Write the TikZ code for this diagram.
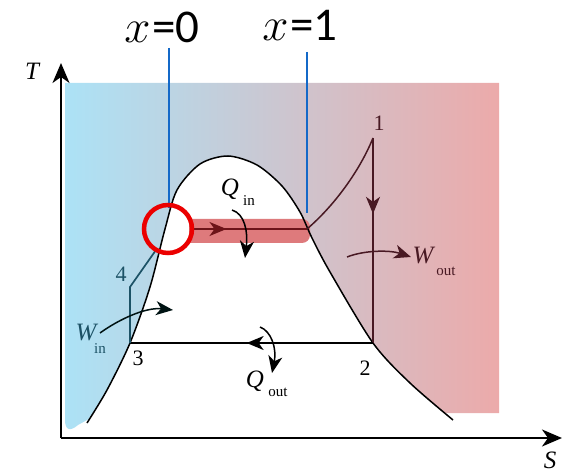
\documentclass[tikz,border=0pt]{standalone}
\usepackage{fix-cm}
\usepackage{fontspec}
\setmainfont{Liberation Serif}
\newfontfamily\calib{Carlito}
\usetikzlibrary{arrows.meta,decorations.markings}
\definecolor{gblue}{RGB}{172,226,246}
\definecolor{gpink}{RGB}{236,170,170}
\definecolor{bandred}{RGB}{222,122,124}
\definecolor{darkred}{RGB}{110,20,25}
\definecolor{tealdark}{RGB}{28,82,102}
\definecolor{browndark}{RGB}{72,25,35}
\definecolor{xline}{RGB}{20,105,200}
\definecolor{ringred}{RGB}{235,0,0}
\begin{document}
\begin{tikzpicture}[x=1pt,y=-1pt,
  tipa/.style={-{Stealth[length=17pt,width=14pt,inset=5pt]}},
  axis/.style={line width=2pt,-{Stealth[length=20pt,width=17pt,inset=6pt]}},
  curve/.style={line width=1.5pt},
  midtip/.style={postaction={decorate},decoration={markings,
     mark=at position #1 with {\arrow{Stealth[length=17pt,width=14pt,inset=5pt]}}}},
  big/.style={inner sep=0pt,font=\fontsize{25}{25}\selectfont\itshape},
  sub/.style={inner sep=0pt,font=\fontsize{15}{15}\selectfont},
  num/.style={inner sep=0pt,font=\fontsize{22}{22}\selectfont},
  xlab/.style={inner sep=0pt,anchor=base,font=\fontsize{47}{47}\selectfont}]
\useasboundingbox (0,0) rectangle (563,476);

% coloured background outside the dome
\shade[left color=gblue,right color=gpink]
  (65,83) -- (499,83) -- (499,413) -- (100,413) -- (87,420) -- (78,425)
  .. controls (70,432) and (65,430) .. (65,420) -- cycle;

% white dome interior
\fill[white] plot[smooth] coordinates {(87,423) (107,390) (130,343) (150,287) (165,229)
  (177,190) (200,164) (228,156) (257,165) (282,186) (300,212) (312,238) (330,272)
  (373,343) (410,383) (453,420)} -- (453,436) -- (87,436) -- cycle;

% named points
\coordinate (p1) at (373,138);
\coordinate (p2) at (373,343);
\coordinate (p3) at (130,343);
\coordinate (p4) at (130,287);
\coordinate (p4b) at (156,250);
\coordinate (pv) at (307,229);
\coordinate (pb) at (192,229);
\coordinate (ringc) at (168,229);
\coordinate (o) at (61,438);
\coordinate (ttip) at (61,63);
\coordinate (stip) at (562,438);

% heat-addition band
\fill[bandred] (189,219) [rounded corners=8pt] -- (310,219) -- (310,243) [sharp corners] -- (189,243) -- cycle;

% quality lines
\coordinate (x0top) at (169,48);
\coordinate (x0bot) at (169,208);
\coordinate (x1top) at (307,52);
\coordinate (x1bot) at (307,213);
\draw[xline,line width=1.6pt] (x0top) -- (x0bot);
\draw[xline,line width=1.6pt] (x1top) -- (x1bot);
\node[xlab] (lx0) at (162,43) {$x$\hspace{2pt}{\calib =0}};
\node[xlab] (lx1) at (300,41) {$x$\hspace{2pt}{\calib =1}};

% saturation dome
\draw[curve] plot[smooth] coordinates {(87,423) (107,390) (130,343) (150,287) (165,229)
  (177,190) (200,164) (228,156) (257,165) (282,186) (300,212) (312,238) (330,272)
  (373,343) (410,383) (453,420)};

% cycle
\draw[curve,darkred,midtip=0.3] (pb) -- (pv);
\draw[curve,browndark] (pv) .. controls (335,205) and (360,170) .. (p1);
\draw[curve,browndark,midtip=0.37] (p1) -- (p2);
\draw[curve,black,midtip=0.52] (p2) -- (p3);
\draw[curve,tealdark,line width=1.7pt] (p3) -- (p4) -- (p4b);

% heat / work arrows
\coordinate (qin0) at (232,210);   \coordinate (qin1) at (245,258);
\coordinate (qout0) at (260,327);  \coordinate (qout1) at (272,373);
\coordinate (win0) at (100,333);   \coordinate (win1) at (173,310);
\coordinate (wout0) at (347,257);  \coordinate (wout1) at (411,257);
\draw[curve,tipa] (qin0) .. controls (245,214) and (248,232) .. (qin1);
\draw[curve,tipa] (qout0) .. controls (271,331) and (277,348) .. (qout1);
\draw[curve,tipa,black!85!teal] (win0) .. controls (118,320) and (145,307) .. (win1);
\draw[curve,tipa,browndark] (wout0) .. controls (365,250) and (390,250) .. (wout1);

% ring marking x=0 point
\draw[ringred,line width=4.5pt] (ringc) circle[radius=24];

% axes
\draw[axis] (o) -- (ttip);
\draw[axis] (o) -- (stip);
\node[big] (lT) at (32,71) {T};
\node[big] (lS) at (550,460) {S};

% labels
\node[num,browndark] (l1) at (379,123) {1};
\node[num] (l2) at (365,368) {2};
\node[num] (l3) at (138,358) {3};
\node[num,tealdark] (l4) at (121,274) {4};
\node[big] (qinQ) at (230,189) {Q};
\node[sub] (qinS) at (249,201) {in};
\node[big] (qoutQ) at (255,381) {Q};
\node[sub] (qoutS) at (278,392) {out};
\node[big,tealdark] (winW) at (86,333) {W};
\node[sub,tealdark] (winS) at (100,349) {in};
\node[big,browndark] (woutW) at (423,256) {W};
\node[sub,browndark] (woutS) at (446,271) {out};
\end{tikzpicture}
\end{document}
